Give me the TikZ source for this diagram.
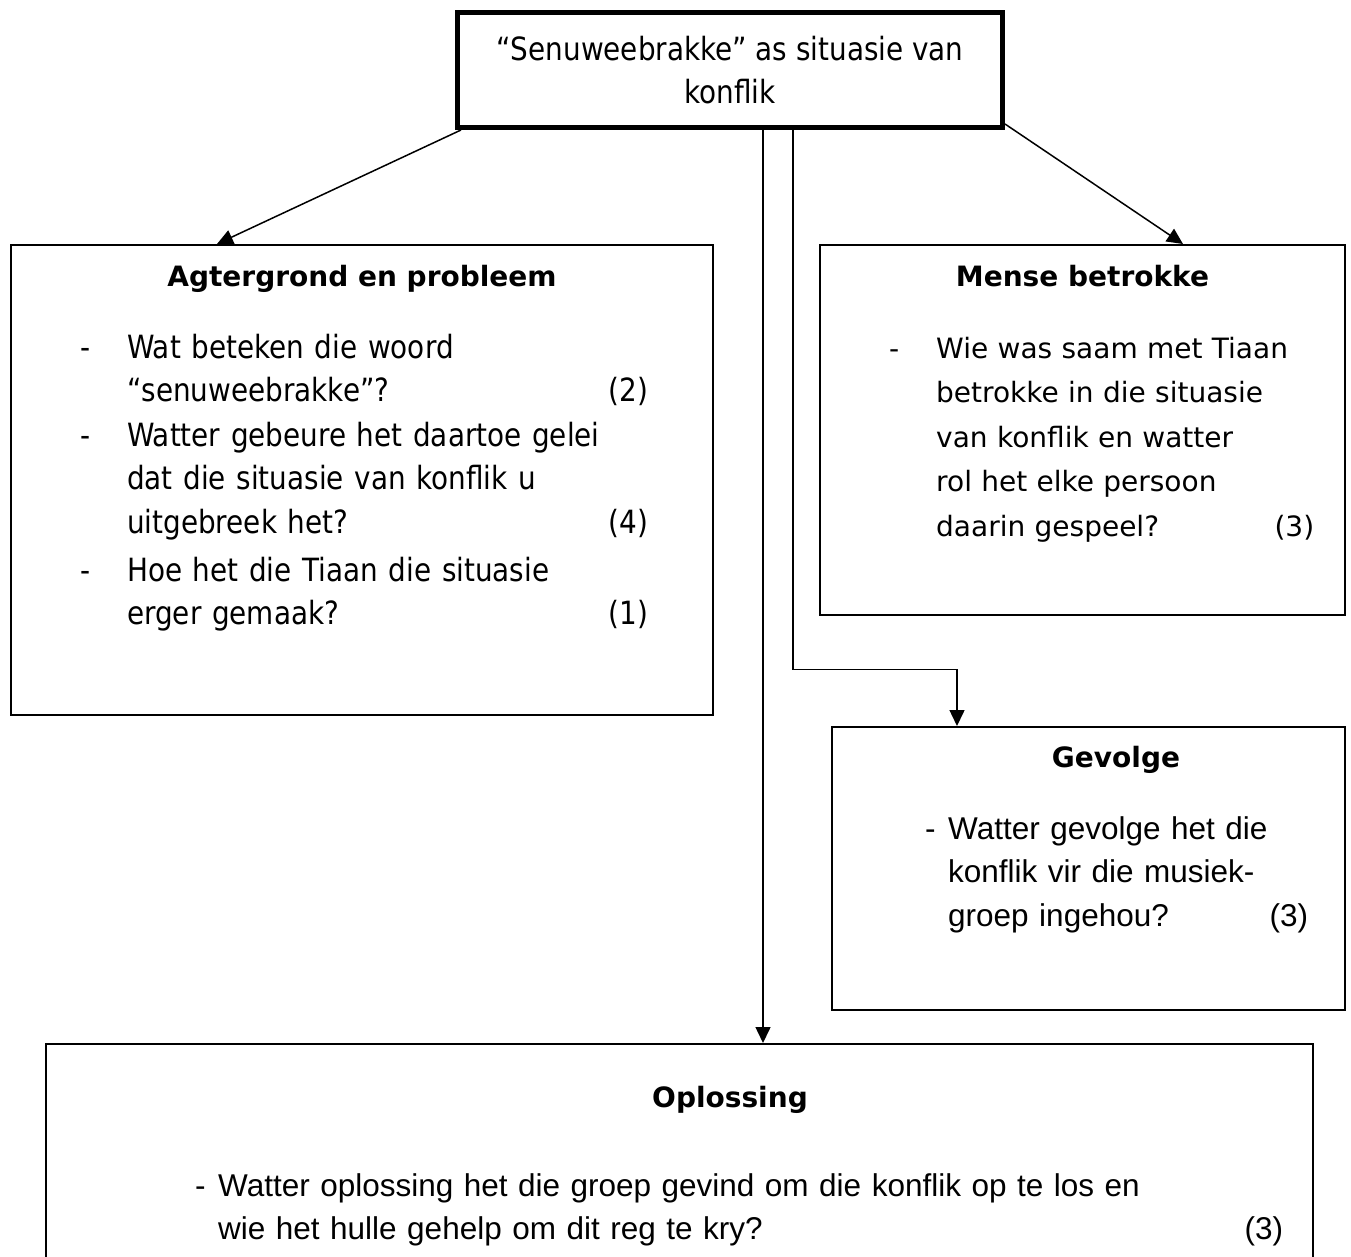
\documentclass[tikz,border=0pt]{standalone}
\usepackage{fontspec}
\newfontfamily\smalsans[FakeStretch=0.87]{DejaVu Sans}
\newfontfamily\wydsans{DejaVu Sans}
\newfontfamily\ariesans{Liberation Sans}
\usetikzlibrary{arrows.meta}

\begin{document}
\begin{tikzpicture}[x=1pt,y=-1pt,
box/.style={draw,line width=2pt,inner sep=0pt},
head/.style={font=\wydsans\bfseries\fontsize{28}{34}\selectfont,inner sep=0pt,anchor=base},
bullet/.style={inner sep=0pt,anchor=base west},
vraag/.style={inner sep=0pt,anchor=base west,align=left},
smal/.style={font=\smalsans\fontsize{32}{43.5}\selectfont},
wyd/.style={font=\wydsans\fontsize{28}{44.5}\selectfont},
arie/.style={font=\ariesans\fontsize{31.5}{43.5}\selectfont},
arrow/.style={-{Triangle[length=16pt,width=15pt]},line width=1.5pt}]

\useasboundingbox (0,0) rectangle (1351,1257);

\node[box,line width=5pt,minimum width=545pt,minimum height=115pt,align=center,smal](konflik) at (730,70) {“Senuweebrakke” as situasie van\\konflik};

% agtergrond
\node[box,minimum width=702pt,minimum height=470pt](agter) at (362,480) {};

\node[head](agterkop) at (362,286) {Agtergrond en probleem};

\node[bullet,smal](agterstreep1) at (80,358) {-};
\node[vraag,smal,text width=521pt](agter1) at (127,358) {Wat beteken die woord\\“senuweebrakke”?\hfill(2)};

\node[bullet,smal](agterstreep2) at (80,446) {-};
\node[vraag,smal,text width=521pt](agter2) at (127,446) {Watter gebeure het daartoe gelei\\dat die situasie van konflik u\\uitgebreek het?\hfill(4)};

\node[bullet,smal](agterstreep3) at (80,581) {-};
\node[vraag,smal,text width=521pt](agter3) at (127,581) {Hoe het die Tiaan die situasie\\erger gemaak?\hfill(1)};

% mense
\node[box,minimum width=525pt,minimum height=370pt](mense) at (1082.5,430) {};

\node[head](mensekop) at (1082.5,286) {Mense betrokke};

\node[bullet,wyd](mensestreep) at (889,358) {-};
\node[vraag,wyd,text width=378pt](mense1) at (936,358) {Wie was saam met Tiaan\\betrokke in die situasie\\van konflik en watter\\rol het elke persoon\\daarin gespeel?\hfill(3)};

% gevolge
\node[box,minimum width=513pt,minimum height=283pt](gevolge) at (1088.5,868.5) {};

\node[head](gevolgekop) at (1116,767) {Gevolge};

\node[bullet,arie](gevolgestreep) at (925,839) {-};
\node[vraag,arie,text width=360pt](gevolge1) at (948,839) {Watter gevolge het die\\konflik vir die musiek-\\groep ingehou?\hfill(3)};

% oplossing
\node[box,minimum width=1267pt,minimum height=244pt](oplossing) at (679.5,1166) {};

\node[head](oplossingkop) at (730,1107) {Oplossing};

\node[bullet,arie](oplossingstreep) at (195,1196) {-};
\node[vraag,arie,text width=1065pt](oplossing1) at (218,1196) {Watter oplossing het die groep gevind om die konflik op te los en\\wie het hulle gehelp om dit reg te kry?\hfill(3)};

% pyle
\draw[arrow] ([xshift=6pt]konflik.south west) -- ([xshift=207pt]agter.north west);

\draw[arrow] ([yshift=6pt]konflik.south east) -- ([xshift=364pt]mense.north west);

\draw[arrow] ([xshift=33pt]konflik.south) -- ([xshift=33pt]konflik.south |- oplossing.north);

\draw[arrow] ([xshift=63pt]konflik.south) -- ++(0,539.5) -| ([xshift=-131.5pt]gevolge.north);

\end{tikzpicture}
\end{document}
